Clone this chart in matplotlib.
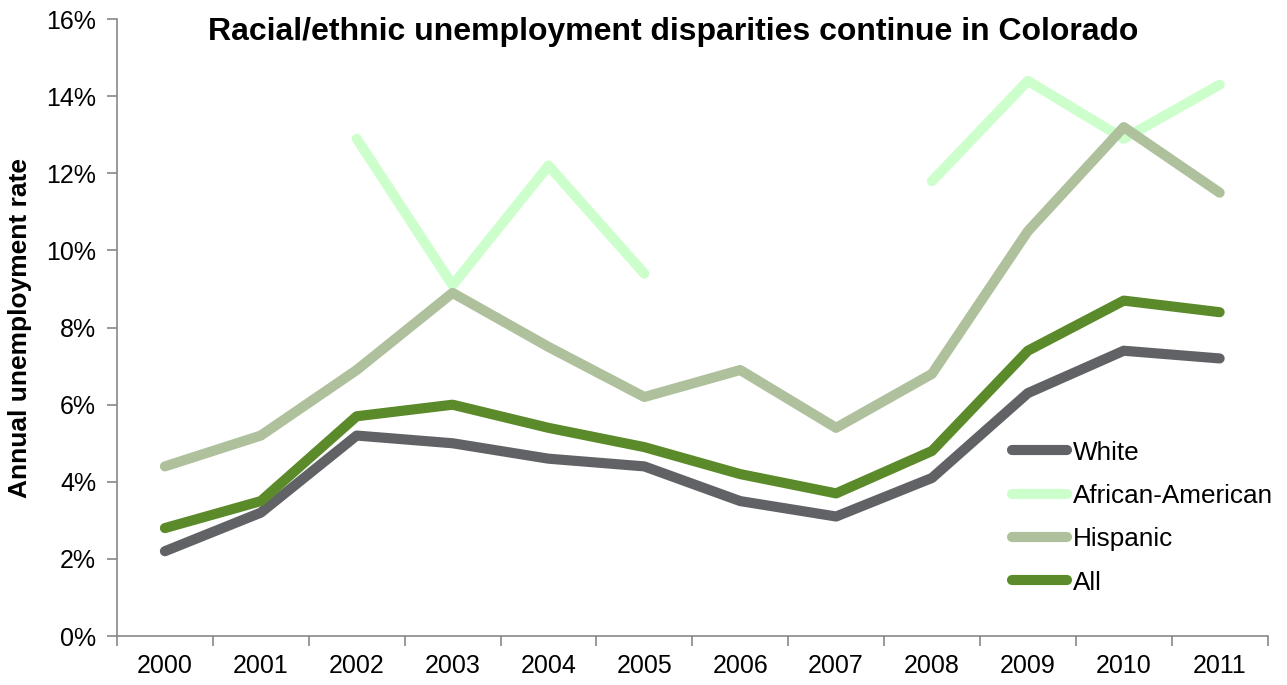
import numpy as np
import matplotlib.pyplot as plt
from matplotlib.ticker import FuncFormatter, FixedLocator

plt.rcParams['font.family'] = ['Liberation Sans', 'DejaVu Sans']

years = ['2000', '2001', '2002', '2003', '2004', '2005',
         '2006', '2007', '2008', '2009', '2010', '2011']
white = [2.2, 3.2, 5.2, 5.0, 4.6, 4.4, 3.5, 3.1, 4.1, 6.3, 7.4, 7.2]
african_american = [np.nan, np.nan, 12.9, 9.1, 12.2, 9.4,
                    np.nan, np.nan, 11.8, 14.4, 12.9, 14.3]
hispanic = [4.4, 5.2, 6.9, 8.9, 7.5, 6.2, 6.9, 5.4, 6.8, 10.5, 13.2, 11.5]
all_rates = [2.8, 3.5, 5.7, 6.0, 5.4, 4.9, 4.2, 3.7, 4.8, 7.4, 8.7, 8.4]

fig = plt.figure(figsize=(12.87, 6.85), dpi=100)
ax = fig.add_axes([0.0909, 0.0715, 0.894, 0.9005])

x = np.arange(len(years))
lw = 7.3
series = [
    (white, '#616265', 'White'),
    (african_american, '#CCFFCC', 'African-American'),
    (hispanic, '#AFC19C', 'Hispanic'),
    (all_rates, '#5B8A2A', 'All'),
]
for vals, col, name in series:
    ax.plot(x, vals, color=col, lw=lw, label=name,
            solid_capstyle='round', solid_joinstyle='round')

ax.set_xlim(-0.5, len(years) - 0.5)
ax.set_ylim(0, 16)
ax.set_yticks(np.arange(0, 17, 2))
ax.yaxis.set_major_formatter(FuncFormatter(lambda v, p: f'{v:.0f}%'))
ax.set_xticks(x)
ax.set_xticklabels(years)
ax.xaxis.set_minor_locator(FixedLocator(np.arange(-0.5, len(years), 1)))

for s in ['top', 'right']:
    ax.spines[s].set_visible(False)
for s in ['left', 'bottom']:
    ax.spines[s].set_color('#888888')
    ax.spines[s].set_linewidth(1.2)

ax.tick_params(axis='x', which='major', length=0, pad=13, labelsize=18)
ax.tick_params(axis='x', which='minor', length=7, width=1.2, color='#888888', direction='out')
ax.tick_params(axis='y', length=7, width=1.2, color='#888888', direction='out', pad=8, labelsize=18)

ax.set_ylabel('Annual unemployment rate', fontsize=19, fontweight='bold', labelpad=10)
fig.text(0.523, 0.954, 'Racial/ethnic unemployment disparities continue in Colorado',
         fontsize=23, fontweight='bold', ha='center', va='center')

ax.legend(loc='upper left', bbox_to_anchor=(0.778, 0.372), bbox_transform=fig.transFigure,
          frameon=False, fontsize=18.8, handlelength=2.1, handletextpad=0.25,
          labelspacing=0.74, borderaxespad=0)

fig.savefig('out.png', dpi=100)
